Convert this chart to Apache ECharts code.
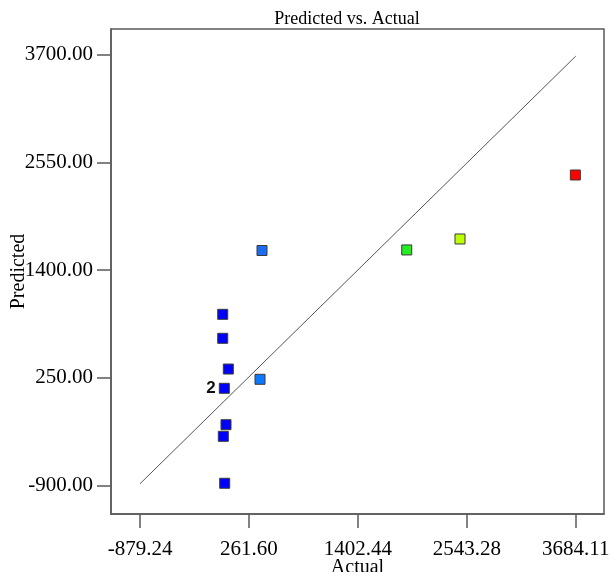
<!DOCTYPE html>
<html>
<head>
<meta charset="utf-8">
<script src="https://cdn.jsdelivr.net/npm/echarts@6/dist/echarts.min.js"></script>
<style>
  html, body { margin: 0; padding: 0; background: #ffffff; }
  #chart { width: 610px; height: 572px; }
</style>
</head>
<body>
<div id="chart"></div>
<script>
// Actual vs predicted values of the design runs
const actual    = [398.5, -13, -13, 45.6, 3.7, 377.6, 21.5, -6.8, 7.9, 1914, 2472, 3680];
const predicted = [1610, 929, 673, 345, 139.5, 235.6, -249, -373, -874, 1616, 1733, 2416];
const pointColors = ['#1a6cf0', '#0000ff', '#0000ff', '#0000ff', '#0000ff', '#0a78ff',
                     '#0000ff', '#0000ff', '#0000ff', '#22ee22', '#bbff00', '#ff0000'];
// Run count shown next to a point
const pointLabels = ['', '', '', '', '2', '', '', '', '', '', '', ''];

// Tick values on both axes
const xTicks = [-879.24, 261.60, 1402.44, 2543.28, 3684.11];
const yTicks = [-900.00, 250.00, 1400.00, 2550.00, 3700.00];

// Ends of the y = x reference line
const diagonal = [-879.24, 3684.11];

const serif = '"Liberation Serif", "Times New Roman", serif';

const chart = echarts.init(document.getElementById('chart'), null, { renderer: 'canvas' });

const scatterData = actual.map((a, i) => ({
  value: [a, predicted[i]],
  itemStyle: { color: pointColors[i] },
  label: {
    show: pointLabels[i] !== '',
    formatter: pointLabels[i],
    position: 'left',
    distance: 3,
    color: '#111',
    fontSize: 17,
    fontWeight: 'bold',
    fontFamily: '"Liberation Sans", Arial, sans-serif'
  }
}));

chart.setOption({
  animation: false,
  backgroundColor: '#ffffff',
  title: {
    text: 'Predicted vs. Actual',
    left: 342,
    textAlign: 'center',
    top: 5,
    textStyle: { fontFamily: serif, fontSize: 18, fontWeight: 'normal', color: '#000' }
  },
  grid: {
    left: 111, right: 6, top: 29, bottom: 58,
    containLabel: false,
    outerBoundsMode: 'none',
    show: true, borderColor: '#5a5a5a', borderWidth: 1.5, backgroundColor: '#fff'
  },
  xAxis: {
    type: 'value',
    min: -1183, max: 3980,
    name: 'Actual',
    nameLocation: 'middle',
    nameGap: 44,
    nameMoveOverlap: false,
    nameTextStyle: { fontFamily: serif, fontSize: 20, color: '#000' },
    splitLine: { show: false },
    axisLine: { show: true, onZero: false, lineStyle: { color: '#5a5a5a', width: 1.5 } },
    axisTick: { show: true, inside: false, length: 14, customValues: xTicks, lineStyle: { color: '#5a5a5a', width: 1.5 } },
    axisLabel: {
      customValues: xTicks,
      margin: 25,
      fontFamily: serif, fontSize: 21, color: '#000',
      formatter: v => v.toFixed(2)
    }
  },
  yAxis: {
    type: 'value',
    min: -1202, max: 3974,
    name: 'Predicted',
    nameLocation: 'middle',
    nameGap: 82,
    nameRotate: 90,
    nameMoveOverlap: false,
    nameTextStyle: { fontFamily: serif, fontSize: 20, color: '#000' },
    splitLine: { show: false },
    axisLine: { show: true, onZero: false, lineStyle: { color: '#5a5a5a', width: 1.5 } },
    axisTick: { show: true, inside: false, length: 14, customValues: yTicks, lineStyle: { color: '#5a5a5a', width: 1.5 } },
    axisLabel: {
      customValues: yTicks,
      margin: 18,
      fontFamily: serif, fontSize: 21, color: '#000',
      formatter: v => v.toFixed(2)
    }
  },
  series: [
    {
      type: 'line',
      data: diagonal.map(v => [v, v]),
      showSymbol: false,
      symbol: 'none',
      silent: true,
      lineStyle: { color: '#555', width: 1 },
      z: 1
    },
    {
      type: 'scatter',
      symbol: 'rect',
      symbolSize: 10,
      data: scatterData,
      itemStyle: {
        opacity: 1,
        borderColor: '#3a3a3a',
        borderWidth: 1
      },
      z: 3
    }
  ]
});
</script>
</body>
</html>
